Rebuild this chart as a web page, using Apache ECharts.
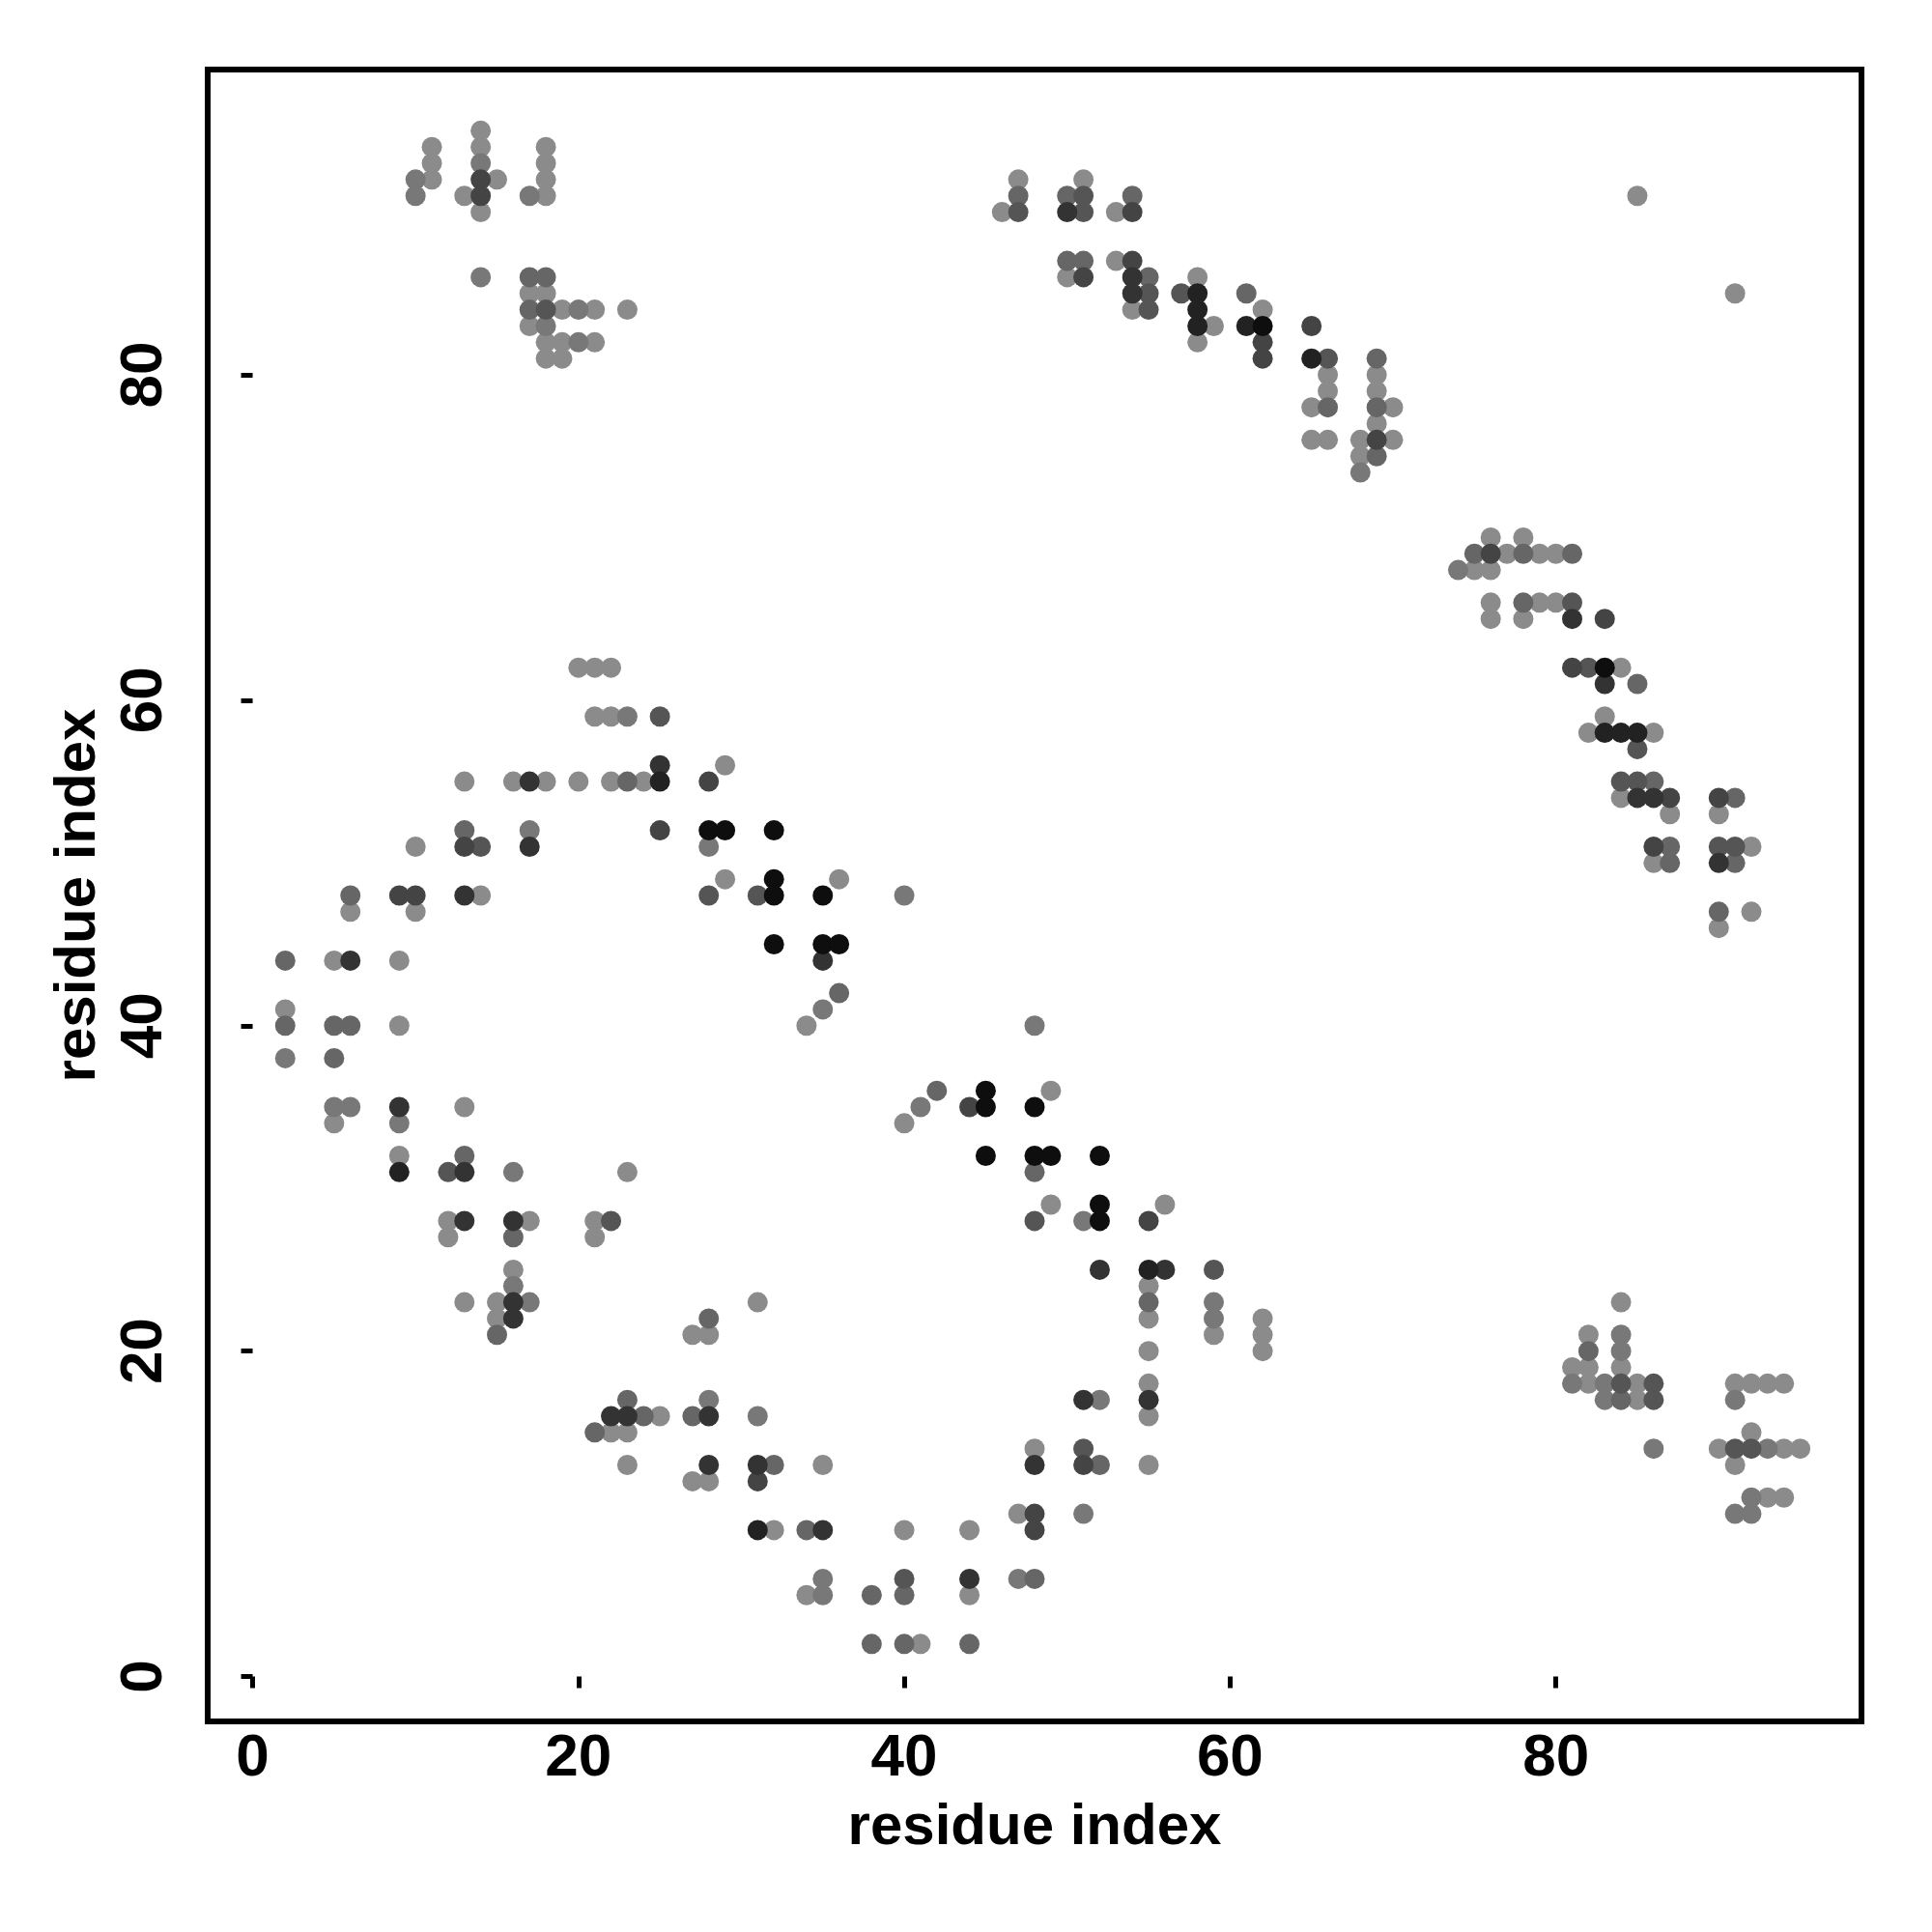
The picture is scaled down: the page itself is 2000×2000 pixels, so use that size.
<!DOCTYPE html>
<html>
<head>
<meta charset="utf-8">
<script src="https://cdn.jsdelivr.net/npm/echarts@6/dist/echarts.min.js"></script>
<style>
html,body{margin:0;padding:0;background:#fff;}
#chart{width:2000px;height:2000px;}
</style>
</head>
<body>
<div id="chart"></div>
<script>
// Tick labels
const xTicks = [0, 20, 40, 60, 80];
const yTicks = [0, 20, 40, 60, 80];
const axisTitle = 'residue index';

// Contact points [x, y], grouped by shade (1 = lightest grey ... 8 = near black)
const shade1 = [
  [11,94],[11,93],[11,92],[13,91],[14,95],[14,94],[14,90],[15,92],[17,85],[17,83],[18,94],[18,93],[18,92],[18,91],[18,85],[18,82],[18,81],[19,84],[19,82],[19,81],[21,84],[21,82],[23,84],
  [46,90],[47,92],[50,86],[51,92],[53,90],[53,87],[54,84],[58,86],[58,82],[59,83],[62,84],[65,78],[65,76],[66,80],[66,79],[66,76],[68,76],[68,75],[69,80],[69,79],[69,77],[70,78],[70,76],
  [76,70],[78,70],[77,69],[79,69],[80,69],[75,68],[76,68],[76,66],[79,66],[80,66],[76,65],[78,65],[84,62],[83,59],[82,58],[86,58],[84,54],[87,53],[90,53],[92,51],[86,50],[92,47],[90,46],
  [85,91],[91,85],
  [13,55],[16,55],[18,55],[20,55],[10,51],[14,48],[6,47],[10,47],[5,44],[9,44],[2,41],[9,40],
  [13,35],[5,34],[9,32],[23,31],[12,28],[17,28],[21,28],[12,27],[21,27],[16,25],[13,23],[15,23],[15,22],
  [20,62],[21,62],[22,62],[21,59],[22,59],[29,56],[22,55],[24,55],[29,49],[36,49],[34,40],
  [49,36],[40,34],[49,29],[56,29],[55,24],[55,22],[62,22],[59,21],[62,21],[55,20],[62,20],[55,18],
  [31,23],[27,21],[28,21],[25,16],[22,15],[23,15],[23,13],[35,13],[27,12],[28,12],[32,9],[40,9],[44,9],[34,5],[44,5],[41,2],
  [55,16],[55,13],[48,14],[47,10],
  [84,23],[82,21],[81,19],[82,19],[84,19],[82,18],[85,18],[85,17],[91,18],[92,18],[93,18],[94,18],[92,15],[90,14],[94,14],[95,14],[91,13],[93,11],[94,11]
];
const shade2 = [
  [10,92],[10,91],[14,93],[14,86],[17,91],[18,83],[20,84],[20,82],
  [68,74],[74,68],
  [17,52],[2,38],
  [5,35],[6,35],[9,34],[16,31],[16,24],[17,23],
  [23,59],[28,51],[35,41],[40,48],
  [48,40],[41,35],[51,28],[59,23],[59,22],
  [28,17],[31,16],[35,6],[47,6],[35,5],
  [52,17],[51,10],
  [84,21],[84,20],[81,18],[83,18],[83,17],[86,14],[91,17],[93,14],[92,11],[91,10],[92,10]
];
const shade3 = [
  [17,86],[17,84],[18,86],
  [47,91],[50,91],[50,87],[51,87],[54,91],[55,86],[61,85],[66,78],[69,81],[69,78],[69,75],
  [75,69],[78,69],[81,69],[78,66],[85,61],[86,55],[87,51],[87,50],[91,50],[90,47],[91,54],
  [13,52],[6,48],[2,44],[2,40],[5,40],[6,40],[5,38],
  [13,32],[16,27],[15,21],
  [23,55],[36,42],
  [42,36],[48,31],[55,23],
  [28,22],[23,17],[24,16],[27,16],[21,15],[32,13],[34,9],[48,6],[38,5],[40,5],[38,2],[40,2],[44,2],
  [52,13],
  [82,20],[84,17]
];
const shade4 = [
  [18,84],
  [47,90],[51,91],[51,90],[55,85],[55,84],[57,85],[66,81],
  [81,66],[82,62],[85,57],[84,55],[85,55],[90,51],[91,51],
  [14,51],
  [12,31],[22,28],
  [25,59],[28,48],[31,48],
  [48,28],[59,25],
  [40,6],
  [51,14],
  [84,18],[86,18],[86,17],[91,14],[92,14]
];
const shade5 = [
  [14,92],[14,91],
  [51,86],[54,90],[54,87],[62,82],[62,81],[65,83],[69,76],
  [76,69],[83,65],[81,62],[87,54],[90,54],[86,51],
  [13,51],[9,48],[10,48],
  [28,55],[25,52],
  [44,35],[55,28],
  [31,12],
  [51,13],[48,10],[48,9]
];
const shade6 = [
  [50,90],[54,86],[54,85],
  [81,65],[83,61],[85,54],[86,54],[90,50],
  [17,55],[17,51],[13,48],[6,44],
  [9,35],[13,31],[13,28],[16,28],[16,23],[16,22],
  [25,56],[35,44],
  [52,25],[56,25],
  [22,16],[23,16],[28,16],[28,13],[31,13],[35,9],[44,6],
  [55,17],[51,17],[48,13]
];
const shade7 = [
  [58,85],[58,84],[58,83],[61,83],[65,81],
  [83,58],[84,58],[85,58],
  [9,31],[25,55],[55,25],[31,9]
];
const shade8 = [
  [62,83],[83,62],
  [28,52],[29,52],[32,52],[32,49],[32,48],[35,48],[32,45],[35,45],[36,45],
  [45,36],[45,35],[48,35],[45,32],[48,32],[49,32],[52,32],[52,29],[52,28]
];

const shades = [shade1, shade2, shade3, shade4, shade5, shade6, shade7, shade8];
const shadeColors = ['#8b8b8b', '#787878', '#666666', '#555555', '#444444', '#333333', '#222222', '#0e0e0e'];

const chart = echarts.init(document.getElementById('chart'), null, {renderer: 'canvas'});

const tickFont = {
  fontFamily: "'Liberation Sans', Arial, sans-serif",
  fontWeight: 'bold',
  fontSize: 62,
  color: '#000'
};
const nameFont = {
  fontFamily: "'Liberation Sans', Arial, sans-serif",
  fontWeight: 'bold',
  fontSize: 60,
  color: '#000'
};

chart.setOption({
  backgroundColor: '#fff',
  animation: false,
  grid: {
    left: 215, top: 72, width: 1712, height: 1710,
    show: true, borderColor: '#000', borderWidth: 6,
    backgroundColor: 'transparent',
    outerBoundsMode: 'none'
  },
  xAxis: {
    type: 'value', min: -2.76, max: 98.76,
    name: axisTitle, nameLocation: 'middle', nameGap: 80,
    nameTextStyle: nameFont,
    axisLine: {show: false},
    splitLine: {show: false},
    axisTick: {show: true, customValues: xTicks, length: 12, lineStyle: {color: '#000', width: 5}},
    axisLabel: Object.assign({customValues: xTicks, margin: 8}, tickFont)
  },
  yAxis: {
    type: 'value', min: -2.76, max: 98.76,
    name: axisTitle, nameLocation: 'middle', nameGap: 104,
    nameTextStyle: nameFont,
    axisLine: {show: false},
    splitLine: {show: false},
    axisTick: {show: true, customValues: yTicks, length: 12, lineStyle: {color: '#000', width: 5}},
    axisLabel: Object.assign({customValues: yTicks, margin: 34, rotate: 90}, tickFont)
  },
  series: shades.map((pts, i) => ({
    type: 'scatter',
    name: 'shade' + (i + 1),
    data: pts,
    symbol: 'circle',
    symbolSize: 21,
    itemStyle: {color: shadeColors[i], opacity: 1},
    silent: true
  }))
});
</script>
</body>
</html>
